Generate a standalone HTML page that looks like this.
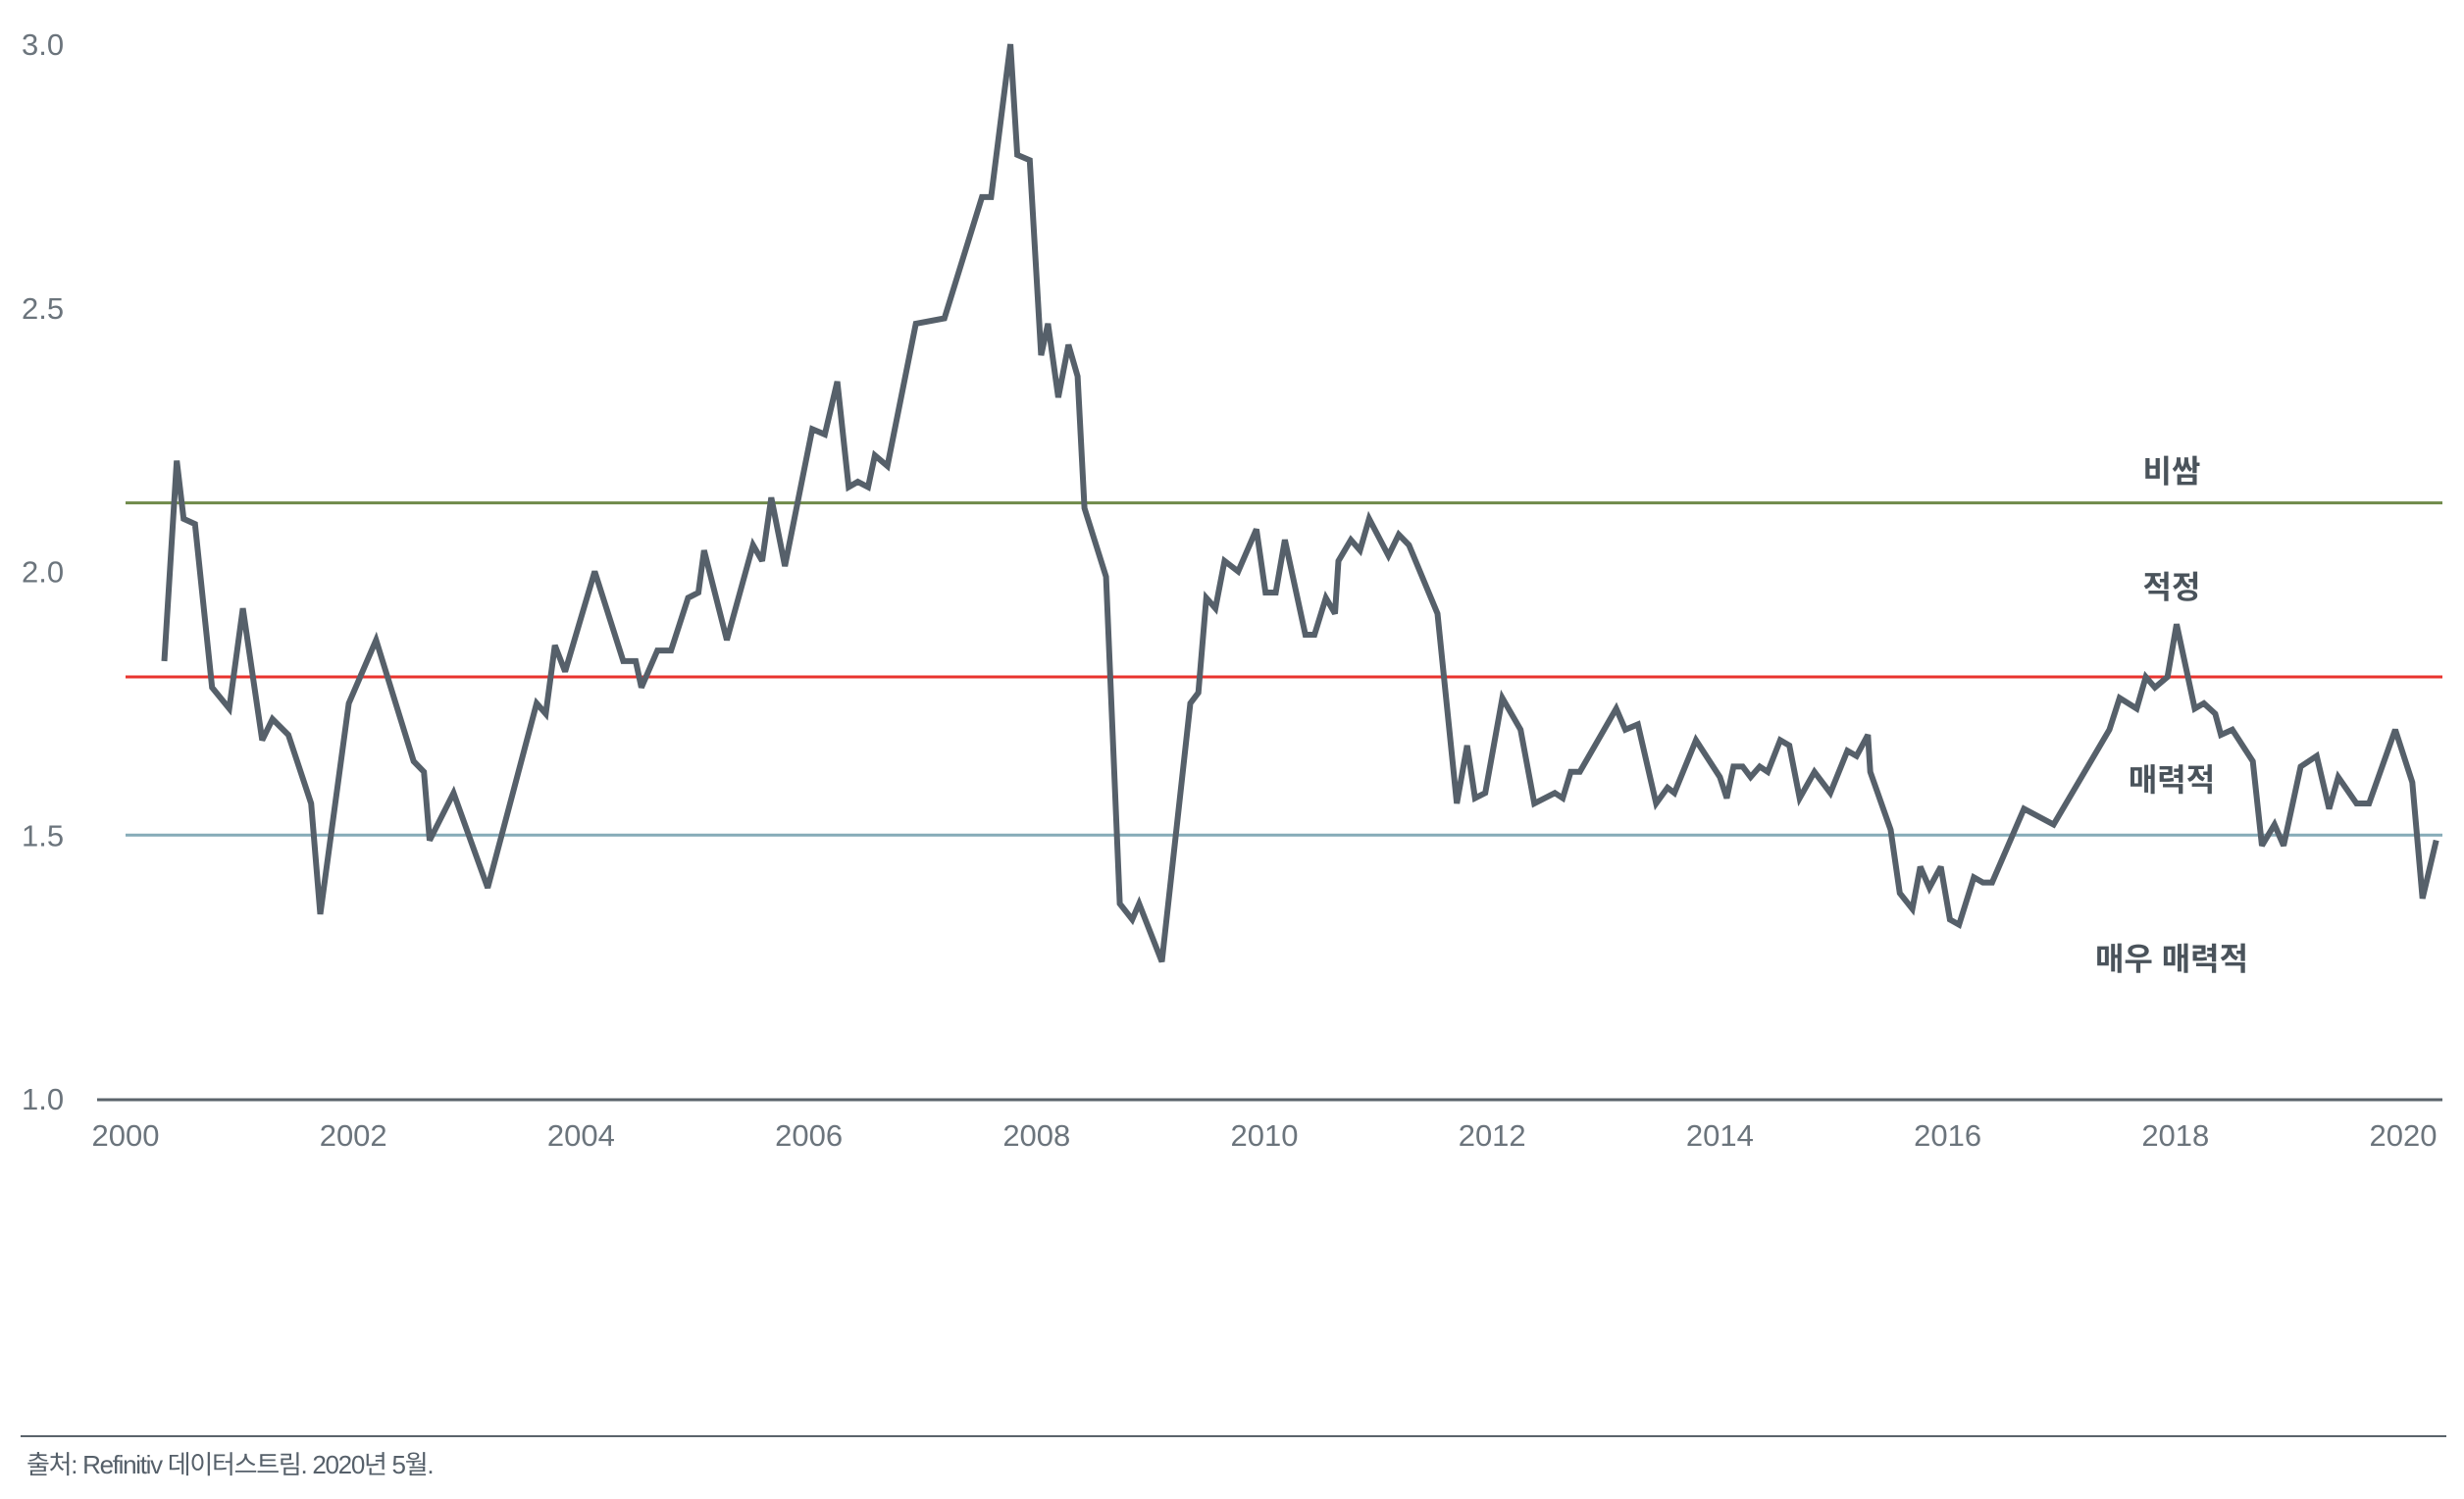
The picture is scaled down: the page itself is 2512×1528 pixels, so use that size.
<!DOCTYPE html>
<html><head><meta charset="utf-8"><style>
html,body{margin:0;padding:0;background:#fff;}
svg{display:block;font-family:"Liberation Sans","Noto Sans CJK KR",sans-serif;}
</style></head><body>
<svg id="chart" width="2512" height="1528" viewBox="0 0 2512 1528" xmlns="http://www.w3.org/2000/svg">
<g id="grid"></g><g id="axes"></g><g id="series"></g><g id="labels"></g>
<line x1="21" y1="1464" x2="2494" y2="1464" stroke="#5b646b" stroke-width="2"/>
<text x="27" y="1502" font-size="26" fill="#56606a" letter-spacing="-1.3">출처: Refinitiv 데이터스트림. 2020년 5월.</text>
</svg>
<script>
const years=[2000.34,2000.45,2000.51,2000.61,2000.76,2000.91,2001.03,2001.20,2001.29,2001.43,2001.63,2001.71,2001.96,2002.20,2002.53,2002.62,2002.67,2002.88,2003.18,2003.61,2003.69,2003.77,2003.86,2004.12,2004.37,2004.48,2004.53,2004.67,2004.79,2004.94,2005.03,2005.08,2005.28,2005.51,2005.59,2005.67,2005.79,2006.03,2006.14,2006.25,2006.35,2006.43,2006.52,2006.58,2006.69,2006.94,2007.19,2007.52,2007.60,2007.77,2007.83,2007.94,2008.04,2008.10,2008.19,2008.28,2008.36,2008.42,2008.61,2008.73,2008.84,2008.90,2009.10,2009.35,2009.42,2009.49,2009.57,2009.65,2009.77,2009.93,2010.01,2010.10,2010.18,2010.36,2010.44,2010.54,2010.62,2010.65,2010.76,2010.84,2010.92,2011.09,2011.18,2011.27,2011.52,2011.69,2011.78,2011.85,2011.94,2012.09,2012.25,2012.37,2012.55,2012.62,2012.69,2012.77,2013.09,2013.17,2013.28,2013.44,2013.54,2013.60,2013.79,2014.00,2014.06,2014.12,2014.20,2014.27,2014.35,2014.42,2014.53,2014.61,2014.70,2014.83,2014.97,2015.12,2015.20,2015.30,2015.32,2015.50,2015.58,2015.69,2015.76,2015.84,2015.94,2016.02,2016.10,2016.23,2016.31,2016.39,2016.67,2016.93,2017.42,2017.51,2017.66,2017.74,2017.82,2017.93,2018.01,2018.17,2018.25,2018.35,2018.40,2018.50,2018.68,2018.76,2018.87,2018.95,2019.10,2019.24,2019.35,2019.43,2019.59,2019.70,2019.93,2020.08,2020.17,2020.29];
const values=[1.83,2.21,2.10,2.09,1.78,1.74,1.93,1.68,1.72,1.69,1.56,1.35,1.75,1.87,1.64,1.62,1.49,1.58,1.40,1.75,1.73,1.86,1.81,2.00,1.83,1.83,1.78,1.85,1.85,1.95,1.96,2.04,1.87,2.05,2.02,2.14,2.01,2.27,2.26,2.36,2.16,2.17,2.16,2.22,2.20,2.47,2.48,2.71,2.71,3.00,2.79,2.78,2.41,2.47,2.33,2.43,2.37,2.12,1.99,1.37,1.34,1.37,1.26,1.75,1.77,1.95,1.93,2.02,2.00,2.08,1.96,1.96,2.06,1.88,1.88,1.95,1.92,2.02,2.06,2.04,2.10,2.03,2.07,2.05,1.92,1.56,1.67,1.57,1.58,1.76,1.70,1.56,1.58,1.57,1.62,1.62,1.74,1.70,1.71,1.56,1.59,1.58,1.68,1.61,1.57,1.63,1.63,1.61,1.63,1.62,1.68,1.67,1.57,1.62,1.58,1.66,1.65,1.69,1.62,1.51,1.39,1.36,1.44,1.40,1.44,1.34,1.33,1.42,1.41,1.41,1.55,1.52,1.70,1.76,1.74,1.80,1.78,1.80,1.90,1.74,1.75,1.73,1.69,1.70,1.64,1.48,1.52,1.48,1.63,1.65,1.55,1.61,1.56,1.56,1.70,1.60,1.38,1.49];
const yTicks=["1.0","1.5","2.0","2.5","3.0"];
const xTicks=["2000","2002","2004","2006","2008","2010","2012","2014","2016","2018","2020"];
const refValues=[2.13,1.8,1.5];
const refColors=["#6f8a4a","#e8342f","#86abb8"];
const zoneLabels=["비쌈","적정","매력적","매우 매력적"];
const zoneValues=[2.19,1.97,1.605,1.265];

const NS="http://www.w3.org/2000/svg";
function X(yr){return 128+(yr-2000)*116.1;}
function Y(v){return 1120-(v-1)*537.5;}
function mk(tag,attrs,parent){const e=document.createElementNS(NS,tag);for(const k in attrs)e.setAttribute(k,attrs[k]);document.getElementById(parent).appendChild(e);return e;}

refValues.forEach((v,i)=>{
  const l=mk('line',{x1:128,x2:2490,y1:Y(v),y2:Y(v),stroke:refColors[i],'stroke-width':3},'grid');
  
  
});
const ax=mk('line',{x1:99,x2:2490,y1:1121,y2:1121,stroke:'#5b646b','stroke-width':3},'axes');


yTicks.forEach(t=>{
  const e=mk('text',{x:22,y:Y(parseFloat(t))+11,'font-size':31,fill:'#6b747c','text-anchor':'start'},'axes');
  
  
  e.textContent=t;
});
xTicks.forEach(t=>{
  const e=mk('text',{x:X(parseFloat(t)),y:1168,'font-size':31,fill:'#6b747c','text-anchor':'middle'},'axes');
  
  
  e.textContent=t;
});
const pts=years.map((yr,i)=>X(yr).toFixed(1)+','+Y(values[i]).toFixed(1)).join(' ');
const pl=mk('polyline',{points:pts,fill:'none',stroke:'#56606a','stroke-width':6,'stroke-linejoin':'miter','stroke-miterlimit':3},'series');


zoneLabels.forEach((t,i)=>{
  const e=mk('text',{x:2214,y:Y(zoneValues[i])+11,'font-size':32,'font-weight':'bold',fill:'#4a535b','text-anchor':'middle'},'labels');
  
  
  e.textContent=t;
});
</script>
</body></html>
